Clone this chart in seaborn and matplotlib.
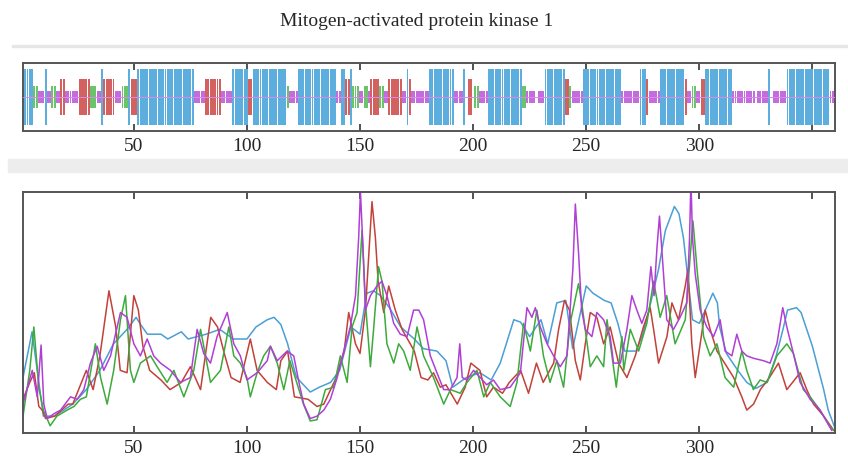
import matplotlib
matplotlib.use("Agg")
import matplotlib.pyplot as plt
from matplotlib.patches import Rectangle
import numpy as np
import pandas as pd
import seaborn as sns

sns.set_style("white")
plt.rcParams["font.family"] = ["Liberation Serif", "DejaVu Serif"]

TITLE = "Mitogen-activated protein kinase 1"
N_RES = 360
TICKS = [50, 100, 150, 200, 250, 300, 350]
TICK_LABELS = ["50", "100", "150", "200", "250", "300", ""]

# Secondary structure segments (H helix, E strand, T turn, C coil)
ss_start = [1, 2, 6, 8, 11, 12, 14, 16, 18, 20, 26, 31, 34, 36, 37, 42, 45, 48, 49, 52,
            77, 82, 89, 94, 101, 103, 118, 119, 123, 140, 142, 144, 146, 147, 150, 152,
            154, 155, 159, 161, 163, 169, 171, 172, 173, 181, 192, 196, 198, 201, 203,
            207, 222, 224, 229, 232, 241, 243, 244, 249, 266, 274, 277, 278, 283, 294,
            295, 297, 299, 301, 303, 315, 326, 331, 333, 339, 358]
ss_end = [1, 5, 7, 10, 11, 13, 15, 17, 19, 25, 30, 33, 35, 36, 41, 44, 47, 48, 51, 76,
          81, 88, 93, 100, 102, 117, 118, 122, 139, 141, 143, 145, 146, 149, 151, 153,
          154, 158, 160, 162, 168, 170, 171, 172, 180, 191, 195, 196, 199, 202, 206,
          221, 223, 227, 231, 240, 242, 243, 248, 265, 273, 276, 277, 282, 293, 294,
          296, 298, 300, 302, 314, 324, 330, 331, 338, 357, 360]
ss_type = ["C", "H", "T", "C", "H", "C", "T", "C", "E", "C", "E", "T", "C", "H", "E", "C",
           "T", "H", "E", "H", "C", "E", "C", "H", "E", "H", "T", "C", "H", "C", "H", "E",
           "H", "T", "C", "T", "C", "E", "T", "C", "E", "C", "H", "E", "C", "H", "C", "H",
           "E", "T", "C", "H", "T", "C", "C", "H", "E", "T", "C", "H", "C", "H", "E", "C",
           "H", "E", "C", "T", "C", "E", "H", "C", "C", "H", "C", "H", "C"]

# Four profile curves along the sequence (residue, normalised score)
blue_x = [1, 5, 10, 15, 23, 29, 35, 41, 47, 51, 53, 56, 62, 65, 71, 74, 78, 82, 88, 94,
          100, 104, 109, 112, 115, 118, 121, 122, 128, 132, 137, 141, 146, 150, 153, 156,
          159, 163, 168, 174, 178, 184, 188, 191, 197, 203, 208, 212, 218, 221, 225, 230,
          233, 237, 241, 244, 250, 253, 258, 261, 264, 267, 272, 275, 278, 282, 285, 289,
          291, 293, 294.5, 297, 300, 306, 308, 309, 312, 317, 321, 325, 330, 334, 337,
          339, 343, 345, 350, 355, 357, 360]
blue_y = [0.23, 0.42, 0.07, 0.07, 0.12, 0.18, 0.26, 0.37, 0.43, 0.48, 0.45, 0.41, 0.41,
          0.39, 0.42, 0.39, 0.40, 0.41, 0.43, 0.39, 0.39, 0.44, 0.47, 0.48, 0.45, 0.37,
          0.26, 0.23, 0.17, 0.19, 0.21, 0.26, 0.44, 0.41, 0.58, 0.59, 0.57, 0.52, 0.44,
          0.39, 0.35, 0.34, 0.30, 0.19, 0.23, 0.25, 0.22, 0.29, 0.47, 0.46, 0.40, 0.47,
          0.37, 0.54, 0.55, 0.35, 0.61, 0.58, 0.55, 0.54, 0.455, 0.34, 0.34, 0.41, 0.52,
          0.68, 0.84, 0.94, 0.91, 0.81, 0.68, 0.47, 0.455, 0.58, 0.54, 0.44, 0.33, 0.26,
          0.21, 0.185, 0.21, 0.32, 0.43, 0.51, 0.52, 0.50, 0.36, 0.18, 0.095, 0.02]

red_x = [1, 4, 6, 8, 9.5, 11, 15, 18, 21, 23, 26, 29, 32, 35, 39, 42, 44, 47, 50, 52, 54,
         57, 62, 66, 71, 75, 79.5, 84, 87, 90, 93, 97, 101.5, 104.5, 109, 113, 115, 118,
         121, 127, 131, 134, 139, 143, 145, 148, 150, 152.4, 155.3, 156.8, 158, 160.5,
         162.7, 165.6, 168.6, 171, 174, 177, 180, 182.5, 185.5, 188, 193, 196.5, 199,
         203, 206, 209, 213, 216, 221, 224.5, 228, 231, 235.6, 237.8, 240.4, 242.6,
         245.2, 247.4, 249.6, 251.8, 254.7, 257.7, 260.6, 264.3, 268, 271.7, 275.3,
         278.3, 279.8, 282, 285.7, 287.9, 290.8, 293.8, 295, 296.7, 298.2, 300.4, 302.6,
         304.8, 307.8, 312.2, 315.2, 318.8, 321, 324, 327, 331, 335, 338.7, 344.6, 347.5,
         350.5, 355, 359.5]
red_y = [0.14, 0.21, 0.25, 0.11, 0.095, 0.06, 0.07, 0.095, 0.12, 0.12, 0.19, 0.26, 0.18,
         0.32, 0.59, 0.44, 0.26, 0.25, 0.57, 0.51, 0.36, 0.26, 0.22, 0.18, 0.21, 0.275,
         0.18, 0.48, 0.44, 0.33, 0.23, 0.21, 0.39, 0.26, 0.21, 0.18, 0.30, 0.34, 0.15,
         0.14, 0.11, 0.12, 0.22, 0.34, 0.50, 0.37, 0.33, 0.51, 0.96, 0.81, 0.63, 0.50,
         0.61, 0.51, 0.43, 0.39, 0.34, 0.23, 0.22, 0.25, 0.19, 0.20, 0.12, 0.19, 0.29,
         0.26, 0.15, 0.19, 0.165, 0.21, 0.26, 0.165, 0.29, 0.21, 0.29, 0.43, 0.55, 0.51,
         0.30, 0.22, 0.37, 0.50, 0.48, 0.37, 0.44, 0.29, 0.23, 0.32, 0.44, 0.52, 0.43,
         0.29, 0.40, 0.54, 0.47, 0.61, 0.68, 0.37, 0.23, 0.37, 0.51, 0.43, 0.34, 0.275,
         0.23, 0.15, 0.095, 0.12, 0.18, 0.23, 0.29, 0.18, 0.25, 0.18, 0.12, 0.07, 0.01]

green_x = [1, 4, 5.8, 8, 10, 13, 16, 20.5, 23.5, 26.4, 29, 33, 35.3, 38.2, 41.1, 44.1,
           46.3, 48.5, 50, 52.9, 57.4, 60.3, 64.7, 67.7, 72.1, 76.5, 79.5, 81.7, 83.9,
           88.3, 92, 94.2, 97.1, 100, 101.5, 104.5, 107.4, 110.4, 113.4, 116.3, 119, 122,
           125, 128, 131, 134.7, 138.4, 141.3, 144.3, 146.5, 148.7, 150.9, 152.4, 154.6,
           156, 158.2, 159.7, 161.9, 164.9, 167.1, 169.3, 172.2, 175.2, 178.1, 182.5, 187,
           190, 194.3, 197.3, 201.7, 204.7, 207.6, 212, 216.4, 219.4, 222.3, 225.3, 228.2,
           231.1, 234, 237, 240, 242.9, 246.6, 248, 251.8, 254.7, 257.7, 259.2, 261.4,
           263.3, 265.8, 266.6, 269.5, 273.2, 276.8, 279.8, 282.7, 285.6, 289.3, 293.8,
           297.2, 299, 301.9, 304.8, 307.8, 311.4, 315.2, 318.8, 321, 323.9, 326.9, 330,
           334.3, 338.7, 341.6, 346, 349, 353.4, 357.8, 359.5]
green_y = [0.07, 0.26, 0.44, 0.19, 0.095, 0.03, 0.07, 0.095, 0.11, 0.14, 0.15, 0.37, 0.23,
           0.12, 0.26, 0.47, 0.57, 0.26, 0.21, 0.29, 0.32, 0.275, 0.21, 0.26, 0.15, 0.26,
           0.43, 0.32, 0.21, 0.26, 0.44, 0.32, 0.29, 0.23, 0.15, 0.25, 0.32, 0.36, 0.29,
           0.18, 0.30, 0.21, 0.12, 0.05, 0.055, 0.18, 0.19, 0.32, 0.21, 0.44, 0.50, 0.84,
           0.54, 0.275, 0.43, 0.69, 0.63, 0.37, 0.29, 0.37, 0.34, 0.26, 0.44, 0.32, 0.23,
           0.12, 0.18, 0.165, 0.21, 0.26, 0.15, 0.21, 0.15, 0.11, 0.21, 0.455, 0.34, 0.51,
           0.32, 0.21, 0.30, 0.19, 0.455, 0.62, 0.54, 0.275, 0.32, 0.275, 0.47, 0.32, 0.19,
           0.40, 0.26, 0.43, 0.34, 0.455, 0.63, 0.48, 0.57, 0.37, 0.47, 0.88, 0.68, 0.40,
           0.32, 0.37, 0.23, 0.19, 0.34, 0.26, 0.18, 0.22, 0.21, 0.32, 0.37, 0.33, 0.18,
           0.15, 0.095, 0.026, 0.01]

purple_x = [1, 3.6, 5.1, 7.3, 9, 10.2, 11.7, 14.7, 17.6, 22, 25, 27.9, 30.8, 33.8, 36.7,
            39.7, 44.1, 47, 50, 52.9, 55.9, 58.8, 61.8, 66.2, 70.6, 75, 78, 80.9, 83.9,
            86.8, 91.3, 94.2, 97.1, 100, 104.5, 109, 110.4, 113.4, 117.8, 120.7, 123,
            125.1, 128, 131, 134, 136.9, 139.9, 142.8, 145.7, 148, 149.4, 150.2, 151.4,
            152.4, 154.6, 157.5, 159.7, 161.9, 164.9, 167.8, 170.8, 173.7, 176, 178.1,
            181.1, 184, 187, 189.9, 192.9, 194.1, 195.2, 197.3, 200.2, 203.2, 206, 209,
            212, 216.4, 220.9, 223.8, 226, 227.5, 229.7, 232.7, 235.6, 238.5, 241.5, 244.1,
            245.2, 246.6, 248, 249.6, 252.5, 254.7, 257.7, 260.6, 262.1, 265.1, 268, 270.2,
            272.4, 274.6, 276.8, 278.6, 280, 281.3, 282.4, 283.9, 285.6, 288.6, 291.5,
            294.5, 295.7, 296.3, 297, 298.2, 300.4, 303.3, 306.3, 309.2, 311.4, 314.4,
            316.6, 318.8, 321, 324, 328.4, 331.3, 334.3, 336.9, 338.7, 341.6, 344.6, 349,
            353.4, 358.6]
purple_y = [0.12, 0.21, 0.26, 0.15, 0.365, 0.12, 0.06, 0.08, 0.095, 0.15, 0.14, 0.18,
            0.29, 0.36, 0.26, 0.32, 0.50, 0.48, 0.37, 0.32, 0.39, 0.32, 0.29, 0.26, 0.21,
            0.23, 0.43, 0.33, 0.29, 0.40, 0.50, 0.37, 0.32, 0.22, 0.25, 0.30, 0.36, 0.30,
            0.34, 0.32, 0.21, 0.12, 0.06, 0.07, 0.095, 0.14, 0.23, 0.34, 0.44, 0.57, 0.81,
            1.0, 0.75, 0.51, 0.57, 0.61, 0.63, 0.57, 0.455, 0.41, 0.40, 0.51, 0.51, 0.47,
            0.32, 0.25, 0.18, 0.18, 0.23, 0.37, 0.23, 0.22, 0.26, 0.23, 0.20, 0.22, 0.18,
            0.19, 0.25, 0.52, 0.48, 0.52, 0.44, 0.37, 0.32, 0.275, 0.32, 0.68, 0.95, 0.75,
            0.51, 0.43, 0.40, 0.50, 0.47, 0.40, 0.29, 0.29, 0.43, 0.57, 0.51, 0.455, 0.51,
            0.69, 0.57, 0.77, 0.90, 0.70, 0.47, 0.43, 0.48, 0.54, 0.81, 1.05, 0.81, 0.66,
            0.51, 0.44, 0.40, 0.47, 0.34, 0.32, 0.41, 0.34, 0.32, 0.31, 0.30, 0.29, 0.37,
            0.52, 0.44, 0.33, 0.21, 0.14, 0.095, 0.01]

SS_COLOR = {"H": "#5BAEDD", "E": "#D2615F", "T": "#6CC46A", "C": "#C46BDD"}
SS_HALF = {"H": 0.83, "E": 0.53, "T": 0.33, "C": 0.19}
LINE_COLORS = {"blue": "#4A9FD4", "red": "#C2413A", "green": "#3DAA3D", "purple": "#B03FD6"}

# ---- figure ----
W, H = 848, 463
fig = plt.figure(figsize=(W / 100, H / 100), dpi=100)

def fbox(left, top, right, bottom):
    return [left / W, 1 - bottom / H, (right - left) / W, (bottom - top) / H]

# light separators between the blocks
fig.patches.append(Rectangle((12 / W, 1 - 47 / H), 1 - 12 / W, 2 / H,
                             transform=fig.transFigure, color="#E6E6E6", zorder=0))
fig.patches.append(Rectangle((8 / W, 1 - 172 / H), 1 - 8 / W, 13 / H,
                             transform=fig.transFigure, color="#EDEDED", zorder=0))

fig.text(417 / W, 1 - 22 / H, TITLE, ha="center", va="center", fontsize=14)

ax_ss = fig.add_axes(fbox(23, 63, 835, 131))
ax_pr = fig.add_axes(fbox(23, 192, 835, 433))

# secondary structure strip
res, kinds = [], []
for s, e, t in zip(ss_start, ss_end, ss_type):
    for r in range(s, e + 1):
        res.append(r)
        kinds.append(t)
ss_df = pd.DataFrame({"residue": res, "kind": kinds})
ss_df["half"] = ss_df["kind"].map(SS_HALF)
ax_ss.bar(ss_df["residue"], 2 * ss_df["half"], bottom=-ss_df["half"], width=0.86,
          color=ss_df["kind"].map(SS_COLOR), linewidth=0, zorder=2)
ax_ss.axhline(0, color="#D98AE6", linewidth=0.7, zorder=3)
ax_ss.set_ylim(-1, 1)

# profile curves
frames = []
for name, xs, ys in [("blue", blue_x, blue_y), ("red", red_x, red_y),
                     ("green", green_x, green_y), ("purple", purple_x, purple_y)]:
    frames.append(pd.DataFrame({"residue": xs, "score": ys, "series": name}))
prof = pd.concat(frames, ignore_index=True)
sns.lineplot(data=prof, x="residue", y="score", hue="series", palette=LINE_COLORS,
             estimator=None, sort=False, linewidth=1.1, legend=False, ax=ax_pr)
ax_pr.set_ylim(0, 1.0)

for ax in (ax_ss, ax_pr):
    ax.set_xlim(1, N_RES)
    ax.set_xticks(TICKS)
    ax.set_xticklabels(TICK_LABELS)
    ax.set_yticks([])
    ax.set_xlabel("")
    ax.set_ylabel("")
    ax.tick_params(axis="x", direction="in", top=True, bottom=True, length=5,
                   width=1.2, color="#333333", labelsize=14, pad=5)
    for sp in ax.spines.values():
        sp.set_visible(True)
        sp.set_color("#555555")
        sp.set_linewidth(1.4)

fig.savefig("out.png", dpi=100)
